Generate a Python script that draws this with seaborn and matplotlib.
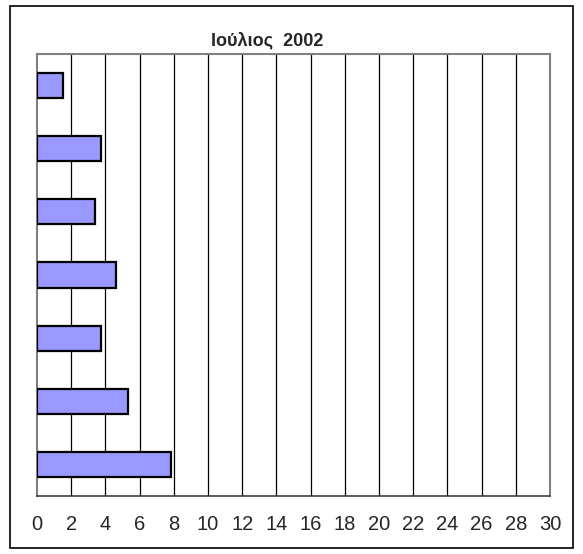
import matplotlib
matplotlib.use("Agg")
import matplotlib.pyplot as plt
import seaborn as sns
import pandas as pd
from matplotlib.patches import Rectangle

# data (categories are not labelled in the original)
categories = ["1", "2", "3", "4", "5", "6", "7"]
values = [1.5, 3.75, 3.4, 4.6, 3.75, 5.3, 7.85]
x_ticks = list(range(0, 31, 2))
title = "Ιούλιος  2002"

sns.set_style("white")
plt.rcParams["font.family"] = ["Liberation Sans", "DejaVu Sans"]

df = pd.DataFrame({"cat": categories, "val": values})

fig = plt.figure(figsize=(5.83, 5.54), dpi=100)
ax = fig.add_axes([37 / 583, 1 - 496 / 554, (550 - 37) / 583, (496 - 54) / 554])

sns.barplot(data=df, x="val", y="cat", orient="h", color="#9999FF",
            saturation=1, width=0.4, edgecolor="black", linewidth=1.6, ax=ax, zorder=3)

ax.set_xlim(0, 30)
ax.set_xticks(x_ticks)
ax.set_xticklabels([str(t) for t in x_ticks], fontsize=14.5)
ax.set_yticks([])
ax.set_xlabel("")
ax.set_ylabel("")
for t in x_ticks[1:-1]:
    ax.axvline(t, color="black", lw=0.9, zorder=1)

for side in ["top", "right", "left"]:
    ax.spines[side].set_color("#808080")
    ax.spines[side].set_linewidth(1.5)
ax.spines["bottom"].set_color("#404040")
ax.spines["bottom"].set_linewidth(1.2)
ax.tick_params(axis="x", direction="out", length=5, width=1, color="#404040", pad=9)

fig.text(267 / 583, 1 - 41 / 554, title, ha="center", va="center",
         fontsize=13, fontweight="bold")

# outer frame of the chart
fig.patches.append(Rectangle((10 / 583, 6 / 554), 563 / 583, 542 / 554,
                             transform=fig.transFigure, fill=False,
                             edgecolor="black", lw=1.2))

fig.savefig("out.png", dpi=100)
